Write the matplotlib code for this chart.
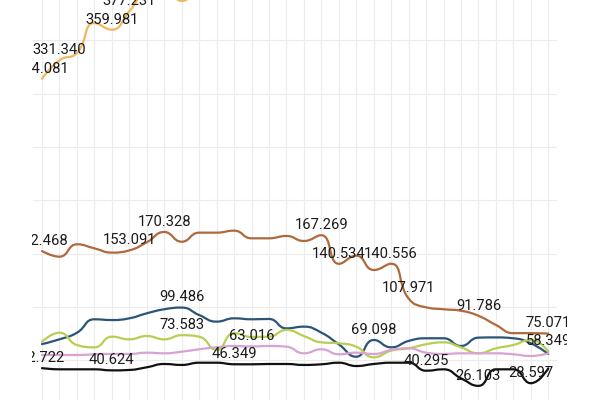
import numpy as np
import matplotlib
matplotlib.use('Agg')
import matplotlib.pyplot as plt
from matplotlib.path import Path
from matplotlib.patches import PathPatch
from matplotlib.transforms import Bbox, TransformedBbox

x = list(range(30))

orange = [314.081, 331.340, 338.1, 366.2, 359.981, 377.231, 396, 399, 387, 400,
          408, 412, 405, 415, 420, 418, 425, 430, 422, 428,
          435, 430, 440, 438, 445, 442, 450, 448, 455, 452]
brown = [152.468, 147.2, 158.8, 155.0, 151.0, 153.091, 160.7, 170.328, 161.2, 169.7,
         169.7, 171.6, 164.4, 164.4, 166.6, 161.9, 167.269, 140.534, 148.1, 134.7,
         140.556, 107.971, 99.7, 97.9, 96.5, 91.786, 83.2, 75.5, 75.5, 75.071]
blue = [65.3, 69.7, 75.9, 88.5, 87.8, 89.4, 94.1, 97.9, 99.486, 92.5,
        86.3, 89.4, 88.5, 88.8, 80.0, 81.6, 76.0, 65.0, 53.4, 69.098,
        62.2, 68.2, 70.7, 70.7, 63.5, 71.3, 71.5, 70.7, 66.0, 56.0]
green = [67.5, 75.9, 64.4, 62.2, 72.2, 69.7, 72.8, 69.7, 73.583, 72.2,
         59.7, 75.5, 72.0, 72.2, 78.5, 72.8, 66.9, 66.0, 62.8, 52.9,
         59.1, 61.3, 65.1, 66.9, 62.2, 56.6, 61.3, 64.4, 69.1, 58.349]
pink = [55.0, 55.0, 55.0, 55.7, 56.0, 56.0, 57.2, 56.6, 58.1, 60.4,
        62.2, 63.5, 63.016, 63.5, 62.8, 56.6, 60.4, 55.7, 57.2, 56.0,
        59.7, 61.3, 57.2, 56.0, 56.6, 56.6, 56.6, 55.7, 54.1, 56.6]
black = [42.722, 41.6, 41.6, 41.6, 40.624, 41.0, 43.5, 46.6, 45.7, 47.8,
         47.8, 46.349, 46.3, 46.6, 46.6, 45.7, 46.3, 47.8, 44.7, 46.6,
         47.8, 47.8, 40.295, 41.6, 33.2, 26.103, 41.6, 41.6, 28.597, 42.5]

series = [
    (orange, '#f2b65c', [0, 1, 4, 5]),
    (brown, '#b0693c', [0, 5, 7, 16, 17, 20, 21, 25, 29]),
    (blue, '#2b5575', [8, 19]),
    (green, '#b9cd55', [8, 29]),
    (pink, '#d7a3d2', [12]),
    (black, '#111111', [0, 4, 11, 22, 25, 28]),
]

fig = plt.figure(figsize=(6, 4), dpi=100)
ax = fig.add_axes([33.3 / 600, 0, 523.7 / 600, 1])
ax.set_xlim(-0.5, 29.5)
ax.set_ylim(12.84, 387.8)
for s in ax.spines.values():
    s.set_visible(False)
ax.set_xticks(x)
ax.set_yticks([50, 100, 150, 200, 250, 300, 350])
ax.tick_params(length=0, labelbottom=False, labelleft=False)
ax.grid(True, color='#ececec', linewidth=0.8)
ax.set_axisbelow(True)


def smooth_path(xs, ys, smooth=0.5):
    pts = ax.transData.transform(np.column_stack([xs, ys]))
    n = len(pts)
    verts = [tuple(pts[0])]
    codes = [Path.MOVETO]
    cp0 = pts[0].copy()
    for i in range(1, n):
        xcur, ycur = pts[i]
        if i == n - 1:
            cp1 = pts[i].copy()
            nextcp0 = None
        else:
            px_, py_ = pts[i - 1]
            nx_, ny_ = pts[i + 1]
            vx = nx_ - px_
            vy = ny_ - py_
            lp = np.hypot(xcur - px_, ycur - py_)
            ln = np.hypot(nx_ - xcur, ny_ - ycur)
            r = ln / (ln + lp)
            ncx = xcur + vx * smooth * r
            ncy = ycur + vy * smooth * r
            ncx = min(ncx, max(nx_, xcur)); ncx = max(ncx, min(nx_, xcur))
            ncy = min(ncy, max(ny_, ycur)); ncy = max(ncy, min(ny_, ycur))
            vx = ncx - xcur
            vy = ncy - ycur
            c1x = xcur - vx * lp / ln
            c1y = ycur - vy * lp / ln
            c1x = min(c1x, max(px_, xcur)); c1x = max(c1x, min(px_, xcur))
            c1y = min(c1y, max(py_, ycur)); c1y = max(c1y, min(py_, ycur))
            vx = xcur - c1x
            vy = ycur - c1y
            ncx = xcur + vx * ln / lp
            ncy = ycur + vy * ln / lp
            cp1 = np.array([c1x, c1y])
            nextcp0 = np.array([ncx, ncy])
        verts += [tuple(cp0), tuple(cp1), (xcur, ycur)]
        codes += [Path.CURVE4] * 3
        if nextcp0 is not None:
            cp0 = nextcp0
    data_verts = ax.transData.inverted().transform(np.array(verts))
    return Path(data_verts, codes)


for vals, col, labs in series:
    path = smooth_path(np.array(x, float), np.array(vals, float))
    ax.add_patch(PathPatch(path, fill=False, edgecolor=col, linewidth=1.6,
                           capstyle='round', joinstyle='round'))

label_clip = TransformedBbox(Bbox([[32 / 600, 0], [567 / 600, 1]]), fig.transFigure)
for vals, col, labs in series:
    for i in labs:
        t = ax.annotate(f'{vals[i]:.3f}', (x[i], vals[i]), xytext=(0, 7.3),
                        textcoords='offset points', ha='center', va='center',
                        fontsize=10.6, family='Roboto', color='#1a1a1a',
                        annotation_clip=False)
        t.set_clip_on(True)
        t.set_clip_box(label_clip)

fig.savefig('out.png', dpi=100)
